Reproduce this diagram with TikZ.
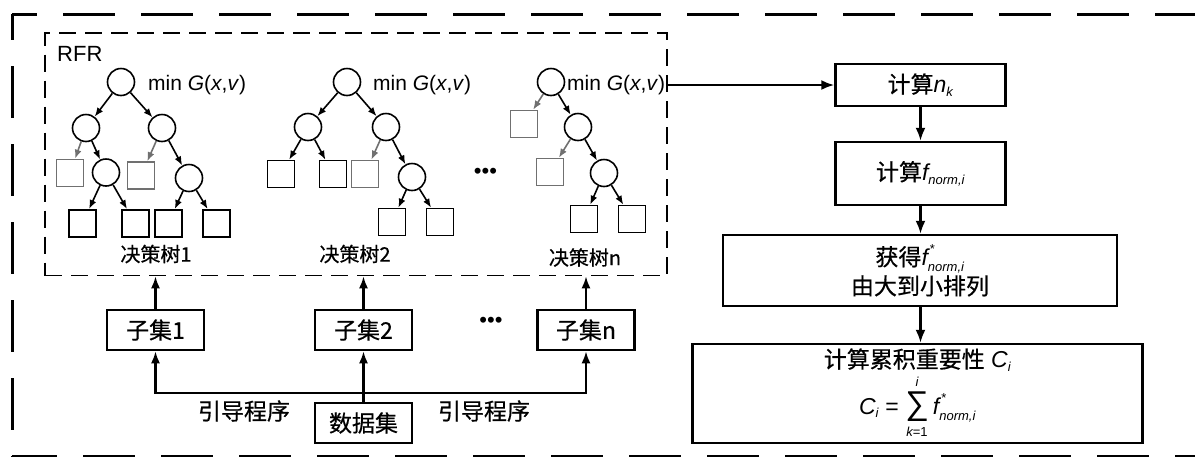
\documentclass[tikz,border=0pt]{standalone}
\usepackage{amsmath}
\usepackage{fontspec}
\setmainfont{Liberation Sans}
\newfontfamily\cjk{Noto Sans CJK SC}[FakeBold=0.6]
\usetikzlibrary{arrows.meta}
\newcommand\zh[1]{{\cjk #1}}
\newcommand\fsz[1]{\fontsize{#1}{#1}\selectfont}
\DeclareMathSizes{23}{23}{13}{10}
\definecolor{leafgray}{HTML}{707070}
\begin{document}
\begin{tikzpicture}[x=1pt,y=-1pt,
  tcirc/.style={circle,draw,line width=1.6pt,minimum size=27pt,inner sep=0pt},
  tleaf/.style={rectangle,draw,line width=1.6pt,minimum size=27pt,inner sep=0pt},
  gleaf/.style={tleaf,draw=leafgray},
  tarr/.style={-{Latex[length=9pt,width=7pt]},line width=1.6pt},
  garr/.style={tarr,leafgray},
  mlabel/.style={font=\fsz{21},anchor=base west,inner sep=0pt},
  tlabel/.style={font=\fsz{20}\cjk,inner sep=0pt},
  box/.style={draw,line width=2.5pt,inner sep=0pt,font=\fsz{23},align=center},
  zhtext/.style={font=\fsz{23}\cjk,inner sep=0pt},
  marr/.style={-{Latex[length=12pt,width=9pt]},line width=2.2pt},
  rarr/.style={-{Latex[length=13pt,width=10pt]},line width=2.2pt},
  outer/.style={line width=3pt,dash pattern=on 52pt off 26pt},
  dots/.style={font=\fsz{22},inner sep=0pt}
]
\useasboundingbox (0,0) rectangle (1195,456);

% outer dashed frame
\draw[outer,dash phase=27pt] (12,14) -- (1200,14);
\draw[outer,dash phase=26pt] (12,14) -- (12,470);
\draw[outer,dash phase=7pt] (12,456) -- (1200,456);

% RFR box
\node[draw,line width=1.5pt,dash pattern=on 17pt off 9pt,minimum width=622pt,minimum height=242.5pt,inner sep=0pt] (rfr) at (356,154.25) {};
\node[font=\fsz{22},anchor=west,inner sep=0pt] (rfrlbl) at (57,54) {RFR};

% tree 1
\node[tcirc] (t1r) at (121,82) {};
\node[tcirc] (t1a) at (86,128) {};
\node[tcirc] (t1b) at (162,128) {};
\node[gleaf] (t1g1) at (70,173) {};
\node[tcirc] (t1c) at (106,172.5) {};
\node[gleaf] (t1g2) at (141,175.5) {};
\node[tcirc] (t1d) at (189,178) {};
\node[tleaf] (t1l1) at (82.5,223.3) {};
\node[tleaf] (t1l2) at (135.2,223.3) {};
\node[tleaf] (t1l3) at (168.2,223.3) {};
\node[tleaf] (t1l4) at (216.2,223.3) {};
\draw[tarr] (t1r) -- (t1a);
\draw[tarr] (t1r) -- (t1b);
\draw[garr] (t1a) -- (t1g1);
\draw[tarr] (t1a) -- (t1c);
\draw[garr] (t1b) -- (t1g2);
\draw[tarr] (t1b) -- (t1d);
\draw[tarr] (t1c) -- (t1l1);
\draw[tarr] (t1c) -- (t1l2);
\draw[tarr] (t1d) -- (t1l3);
\draw[tarr] (t1d) -- (t1l4);
\node[mlabel] (t1m) at (148,90) {min \textit{G}(\textit{x},\textit{v})};
\node[tlabel] (t1n) at (156,254) {决策树1};

% tree 2
\node[tcirc] (t2r) at (347,82) {};
\node[tcirc] (t2a) at (308,127) {};
\node[tcirc] (t2b) at (386,127) {};
\node[tleaf] (t2l1) at (281,174) {};
\node[tleaf] (t2l2) at (333,174) {};
\node[gleaf] (t2g1) at (365,174) {};
\node[tcirc] (t2c) at (412,177) {};
\node[tleaf] (t2l3) at (392,222) {};
\node[tleaf] (t2l4) at (440,222) {};
\draw[tarr] (t2r) -- (t2a);
\draw[tarr] (t2r) -- (t2b);
\draw[tarr] (t2a) -- (t2l1);
\draw[tarr] (t2a) -- (t2l2);
\draw[garr] (t2b) -- (t2g1);
\draw[tarr] (t2b) -- (t2c);
\draw[tarr] (t2c) -- (t2l3);
\draw[tarr] (t2c) -- (t2l4);
\node[mlabel] (t2m) at (373,90) {min \textit{G}(\textit{x},\textit{v})};
\node[tlabel] (t2n) at (355,254) {决策树2};

\node[dots] (tdots) at (485.5,173) {•••};

% tree n
\node[tcirc] (tnr) at (551,82) {};
\node[gleaf] (tng1) at (524,124) {};
\node[tcirc] (tna) at (578,127) {};
\node[gleaf] (tng2) at (550,172) {};
\node[tcirc] (tnb) at (604,173) {};
\node[tleaf] (tnl1) at (584,219) {};
\node[tleaf] (tnl2) at (632,219) {};
\draw[garr] (tnr) -- (tng1);
\draw[tarr] (tnr) -- (tna);
\draw[garr] (tna) -- (tng2);
\draw[tarr] (tna) -- (tnb);
\draw[tarr] (tnb) -- (tnl1);
\draw[tarr] (tnb) -- (tnl2);
\node[mlabel] (tnm) at (567,90) {min \textit{G}(\textit{x},\textit{v})};
\node[tlabel] (tnn) at (585,257.5) {决策树n};

% subsets and data
\node[box,minimum width=97pt,minimum height=40pt] (sub1) at (155.5,330) {\zh{子集1}};
\node[box,minimum width=97pt,minimum height=40pt] (sub2) at (363.5,330) {\zh{子集2}};
\node[box,minimum width=97pt,minimum height=40pt] (subn) at (586,330) {\zh{子集n}};
\node[dots] (sdots) at (491,322) {•••};
\node[box,minimum width=97pt,minimum height=40pt] (data) at (363.5,423) {\zh{数据集}};
\coordinate (j) at (363.5,393);
\draw[marr] (data) -- (sub2);
\draw[marr] (j) -| (sub1);
\draw[marr] (j) -| (subn);
\node[zhtext] (bl) at (244,411) {引导程序};
\node[zhtext] (br) at (484,411) {引导程序};
\draw[marr] (sub1) -- (sub1 |- rfr.south);
\draw[marr] (sub2) -- (sub2 |- rfr.south);
\draw[marr] (subn) -- (subn |- rfr.south);

% right column
\node[box,minimum width=170pt,minimum height=42pt] (nk) at (920.5,85) {\zh{计算}$\textit{n}_{\textit{k}}$};
\node[box,minimum width=170pt,minimum height=63pt] (fn) at (920.5,173.5) {\zh{计算}$\textit{f}_{\textit{norm,i}}$};
\node[box,minimum width=394pt,minimum height=71pt] (fs) at (920,270.5) {\zh{获得}$\textit{f}^{\,\text{*}}_{\textit{norm,i}}$\\[1pt]\zh{由大到小排列}};
\node[box,minimum width=450pt,minimum height=99pt] (ci) at (917.5,393.5) {\zh{计算累积重要性} $\textit{C}_{\textit{i}}$\\[2pt]$\textit{C}_{\textit{i}}$ = $\displaystyle\mathop{\text{\fsz{33}∑}}\limits_{\textit{k}\text{=1}}^{\textit{i}}\textit{f}^{\,\text{*}}_{\textit{norm,i}}$};
\draw[rarr] (rfr.east |- nk) -- (nk);
\draw[rarr] (nk) -- (fn);
\draw[rarr] (fn) -- (fn |- fs.north);
\draw[rarr] (fs.south -| fn) -- (fn |- ci.north);
\end{tikzpicture}
\end{document}
